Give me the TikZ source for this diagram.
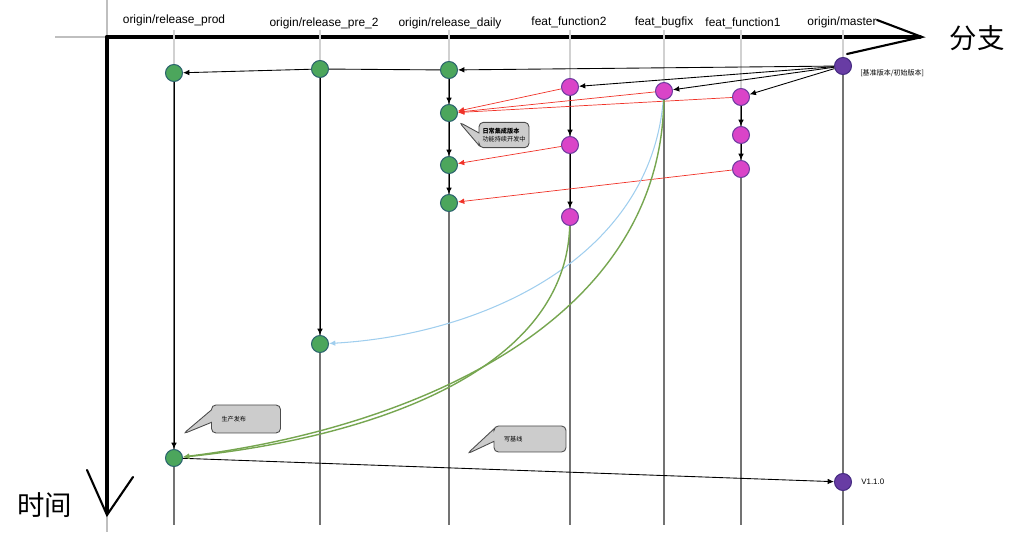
\documentclass[tikz,border=0pt]{standalone}
\usepackage{fontspec}
\setmainfont{Liberation Sans}
\newfontfamily\cjk{Noto Sans CJK SC}
\usepackage{tikz}
\usetikzlibrary{arrows.meta,shapes.callouts}
\definecolor{gfgreen}{RGB}{76,166,92}
\definecolor{gfgreenline}{RGB}{44,100,110}
\definecolor{gfmagenta}{RGB}{218,68,200}
\definecolor{gfmagentaline}{RGB}{110,60,160}
\definecolor{gfpurple}{RGB}{104,60,164}
\definecolor{gfpurpleline}{RGB}{70,44,130}
\definecolor{gfred}{RGB}{240,50,40}
\definecolor{gfblue}{RGB}{160,206,238}
\definecolor{gfcurve}{RGB}{118,166,80}
\definecolor{gfnote}{RGB}{204,204,204}
\tikzset{
  gfHead/.style={font=\fontsize{6.8}{8}\selectfont, inner sep=0pt},
  gfCommit/.style={circle, draw=#1line, fill=#1, line width=0.6pt,
                   minimum size=0.34cm, inner sep=0pt},
  gfLife/.style={draw=black!55, line width=1.1pt},
  gfFaint/.style={draw=black!18, line width=0.7pt},
  gfLine/.style={draw=black, line width=0.5pt},
  gfArrow/.style={-{Latex[length=3.6pt,width=3.2pt]}, draw=black, line width=0.5pt},
  gfMerge/.style={-{Latex[length=3.6pt,width=3.2pt]}, draw=gfred, line width=0.4pt},
  gfPick/.style={-{Latex[length=3.6pt,width=3.2pt]}, draw=gfblue, line width=0.6pt},
  gfRelease/.style={-{Latex[length=3.6pt,width=3.2pt]}, draw=gfcurve, line width=0.8pt},
  gfNote/.style={rectangle callout, rounded corners=2.5pt, draw=black!70,
                 fill=gfnote, line width=0.5pt, align=left,
                 font=\cjk\fontsize{3.5}{4.4}\selectfont},
  gfAxis/.style={draw=black, line width=2.2pt, line cap=round},
  gfAxisTip/.style={draw=black, line width=1.2pt, line cap=round}
}
\begin{document}
\begin{tikzpicture}[x=0.02cm,y=-0.02cm]
  \useasboundingbox (0,0) rectangle (1025,546);

  % axes
  \draw[draw=black!25, line width=1.6pt] (55,37) -- (107,37);
  \draw[draw=black!25, line width=1.6pt] (107,0) -- (107,37);
  \draw[draw=black!25, line width=1.2pt] (107,515) -- (107,532);
  \draw[gfAxis] (107,37) -- (920,37);
  \draw[gfAxisTip] (877,20) -- (922,37) -- (847,54);
  \draw[gfAxis] (107,37) -- (107,512);
  \draw[gfAxisTip] (87,470) -- (107,515) -- (133,477);
  \node[font=\cjk\fontsize{15.6}{18}\selectfont, inner sep=0pt] (lblbranch) at (977,38) {分支};
  \node[font=\cjk\fontsize{15.6}{18}\selectfont, inner sep=0pt] (lbltime) at (45,505) {时间};

  % branch names
  \node[gfHead] (hprod) at (174,20) {origin/release\_prod};
  \node[gfHead] (hpre) at (324,23) {origin/release\_pre\_2};
  \node[gfHead] (hdaily) at (450,23) {origin/release\_daily};
  \node[gfHead] (hftwo) at (569,22) {feat\_function2};
  \node[gfHead] (hbug) at (664,22) {feat\_bugfix};
  \node[gfHead] (hfone) at (743,23) {feat\_function1};
  \node[gfHead] (hmaster) at (842,22) {origin/master};

  % lifelines
  \foreach \x/\y in {174/73, 320/69, 449/70, 570/87, 664/91, 741/97, 843/66} {
    \draw[gfFaint] (\x,30) -- (\x,\y);
    \draw[gfLife] (\x,\y) -- (\x,525);
  }

  % commits
  \node[gfCommit=gfgreen] (prod1) at (174,73) {};
  \node[gfCommit=gfgreen] (pre1) at (320,69) {};
  \node[gfCommit=gfgreen] (daily1) at (449,70) {};
  \node[gfCommit=gfpurple] (master1) at (843,66) {};
  \node[gfCommit=gfmagenta] (ftwo1) at (570,87) {};
  \node[gfCommit=gfmagenta] (bug1) at (664,91) {};
  \node[gfCommit=gfmagenta] (fone1) at (741,97) {};
  \node[gfCommit=gfgreen] (daily2) at (449,113) {};
  \node[gfCommit=gfmagenta] (fone2) at (741,135) {};
  \node[gfCommit=gfmagenta] (ftwo2) at (570,145) {};
  \node[gfCommit=gfgreen] (daily3) at (449,165) {};
  \node[gfCommit=gfmagenta] (fone3) at (741,169) {};
  \node[gfCommit=gfgreen] (daily4) at (449,203) {};
  \node[gfCommit=gfmagenta] (ftwo3) at (570,217) {};
  \node[gfCommit=gfgreen] (pre2) at (320,344) {};
  \node[gfCommit=gfgreen] (prod2) at (174,458) {};
  \node[gfCommit=gfpurple] (master2) at (843,482) {};

  \node[font=\cjk\fontsize{4}{5}\selectfont, anchor=west, inner sep=0pt] (mbase) at (860,73) {[基准版本/初始版本]};
  \node[font=\fontsize{4.5}{5.5}\selectfont, anchor=west, inner sep=0pt] (mver) at (861,482) {V1.1.0};

  % branching from master
  \draw[gfArrow] (master1) -- (daily1);
  \draw[gfArrow] (master1) -- (ftwo1);
  \draw[gfArrow] (master1) -- (bug1);
  \draw[gfArrow] (master1) -- (fone1);
  \draw[gfLine] (daily1) -- (pre1);
  \draw[gfArrow] (pre1) -- (prod1);

  % commits along branches
  \draw[gfArrow] (daily1) -- (daily2);
  \draw[gfArrow] (daily2) -- (daily3);
  \draw[gfArrow] (daily3) -- (daily4);
  \draw[gfArrow] (ftwo1) -- (ftwo2);
  \draw[gfArrow] (ftwo2) -- (ftwo3);
  \draw[gfArrow] (fone1) -- (fone2);
  \draw[gfArrow] (fone2) -- (fone3);
  \draw[gfArrow] (prod1) -- (prod2);
  \draw[gfArrow] (pre1) -- (pre2);
  \draw[gfArrow] (prod2) -- (master2);

  % merges into daily
  \draw[gfMerge] (ftwo1) -- (daily2);
  \draw[gfMerge] (bug1) -- (daily2);
  \draw[gfMerge] (fone1) -- (daily2);
  \draw[gfMerge] (ftwo2) -- (daily3);
  \draw[gfMerge] (fone3) -- (daily4);

  % release curves
  \draw[gfPick] (bug1) .. controls (650,260) and (480,335) .. (pre2);
  \draw[gfRelease] (ftwo3) .. controls (565,380) and (350,440) .. (prod2);
  \draw[gfRelease] (bug1) .. controls (660,330) and (400,430) .. (prod2);

  % notes
  \node[gfNote, callout absolute pointer={(459,122)}, minimum height=0.48cm,
        text width=0.86cm, inner xsep=0.07cm] (ndaily) at (504,135)
        {\textbf{日常集成版本}\\功能持续开发中};
  \node[gfNote, callout absolute pointer={(183,434)}, minimum height=0.56cm,
        text width=0.98cm, inner xsep=0.2cm] (nprod) at (246,419) {生产发布};
  \node[gfNote, callout absolute pointer={(467,454)}, minimum height=0.52cm,
        text width=1.04cm, inner xsep=0.2cm] (nbase) at (530,439) {写基线};
\end{tikzpicture}
\end{document}
